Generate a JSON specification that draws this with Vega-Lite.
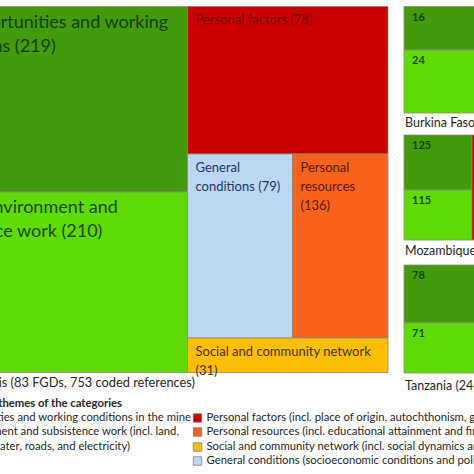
{
  "$schema": "https://vega.github.io/schema/vega-lite/v6.json",
  "description": "Treemaps of coded references by category: overall analysis and per country",
  "autosize": {"type": "none"},
  "padding": 0,
  "width": 474,
  "height": 474,
  "background": "white",
  "config": {"view": {"stroke": null}, "font": "Lato", "text": {"font": "Lato"}},
  "datasets": {
    "cells": [
      {"panel": "main", "category": "jobs", "count": 219, "label": "Job opportunities and working\nconditions (219)", "x0": -80, "x1": 187.5, "y0": 6.5, "y1": 192},
      {"panel": "main", "category": "environment", "count": 210, "label": "Natural environment and\nsubsistence work (210)", "x0": -87, "x1": 187.5, "y0": 192, "y1": 372.5},
      {"panel": "main", "category": "personal_factors", "count": 78, "label": "Personal factors (78)", "x0": 187.5, "x1": 388, "y0": 6.5, "y1": 154},
      {"panel": "main", "category": "general", "count": 79, "label": "General\nconditions (79)", "x0": 187.5, "x1": 292.5, "y0": 154, "y1": 338},
      {"panel": "main", "category": "personal_resources", "count": 136, "label": "Personal\nresources\n(136)", "x0": 292.5, "x1": 388, "y0": 154, "y1": 338},
      {"panel": "main", "category": "social", "count": 31, "label": "Social and community network\n(31)", "x0": 187.5, "x1": 388, "y0": 338, "y1": 372.5},
      {"panel": "Burkina Faso", "category": "jobs", "count": 16, "label": "", "x0": 404, "x1": 530, "y0": 6.5, "y1": 50},
      {"panel": "Burkina Faso", "category": "environment", "count": 24, "label": "", "x0": 404, "x1": 530, "y0": 50, "y1": 113},
      {"panel": "Mozambique", "category": "jobs", "count": 125, "label": "", "x0": 404, "x1": 472, "y0": 135, "y1": 190},
      {"panel": "Mozambique", "category": "environment", "count": 115, "label": "", "x0": 404, "x1": 472, "y0": 190, "y1": 240},
      {"panel": "Mozambique", "category": "personal_factors", "count": null, "label": "", "x0": 472, "x1": 530, "y0": 135, "y1": 240},
      {"panel": "Tanzania", "category": "jobs", "count": 78, "label": "", "x0": 404, "x1": 530, "y0": 265, "y1": 323},
      {"panel": "Tanzania", "category": "environment", "count": 71, "label": "", "x0": 404, "x1": 530, "y0": 323, "y1": 373}
    ],
    "notes": [
      {"kind": "caption", "text": "Overall analysis (83 FGDs, 753 coded references)", "x": 195, "y": 383},
      {"kind": "panel", "text": "Burkina Faso", "x": 405, "y": 123},
      {"kind": "panel", "text": "Mozambique", "x": 405, "y": 251},
      {"kind": "panel", "text": "Tanzania (24 FGDs)", "x": 405, "y": 386},
      {"kind": "heading", "text": "Main themes of the categories", "x": 122, "y": 404},
      {"kind": "legend", "text": "Job opportunities and working conditions in the mine", "x": 191, "y": 418},
      {"kind": "legend", "text": "Natural environment and subsistence work (incl. land,", "x": 179, "y": 432},
      {"kind": "legend", "text": "drinking water, roads, and electricity)", "x": 130, "y": 447}
    ],
    "swatches": [
      {"category": "personal_factors", "description": "Personal factors (incl. place of origin, autochthonism, gender and age)", "x": 197.5, "y": 418},
      {"category": "personal_resources", "description": "Personal resources (incl. educational attainment and financial means)", "x": 197.5, "y": 432},
      {"category": "social", "description": "Social and community network (incl. social dynamics and relations)", "x": 197.5, "y": 447},
      {"category": "general", "description": "General conditions (socioeconomic conditions and political context)", "x": 197.5, "y": 461}
    ]
  },
  "layer": [
    {
      "data": {"name": "cells"},
      "mark": {"type": "rect", "stroke": "#8a8a7a", "strokeWidth": 0.8, "clip": true},
      "encoding": {
        "x": {"field": "x0", "type": "quantitative", "scale": {"domain": [0, 474], "nice": false, "zero": false}, "axis": null},
        "x2": {"field": "x1"},
        "y": {"field": "y0", "type": "quantitative", "scale": {"domain": [0, 474], "reverse": true, "nice": false, "zero": false}, "axis": null},
        "y2": {"field": "y1"},
        "fill": {
          "field": "category", "type": "nominal", "legend": null,
          "scale": {
            "domain": ["jobs", "environment", "personal_factors", "general", "personal_resources", "social"],
            "range": ["#429a0c", "#5edb04", "#c90000", "#bcd6f4", "#f7631c", "#fdbe08"]
          }
        }
      }
    },
    {
      "data": {"name": "cells"},
      "transform": [{"filter": "datum.panel == 'main' && (datum.category == 'jobs' || datum.category == 'environment')"}],
      "mark": {"type": "text", "align": "left", "baseline": "top", "dx": 8, "dy": 7, "fontSize": 18, "lineHeight": 24, "lineBreak": "\n", "clip": true},
      "encoding": {
        "x": {"field": "x0", "type": "quantitative", "scale": {"domain": [0, 474], "nice": false, "zero": false}, "axis": null},
        "y": {"field": "y0", "type": "quantitative", "scale": {"domain": [0, 474], "reverse": true, "nice": false, "zero": false}, "axis": null},
        "text": {"field": "label"},
        "color": {
          "field": "category", "type": "nominal", "legend": null,
          "scale": {
            "domain": ["jobs", "environment", "personal_factors", "general", "personal_resources", "social"],
            "range": ["#173f06", "#1c4a05", "#780000", "#1f3763", "#5a1800", "#4a3300"]
          }
        }
      }
    },
    {
      "data": {"name": "cells"},
      "transform": [{"filter": "datum.panel == 'main' && datum.category != 'jobs' && datum.category != 'environment'"}],
      "mark": {"type": "text", "align": "left", "baseline": "top", "dx": 8, "dy": 7.5, "fontSize": 13, "lineHeight": 19, "lineBreak": "\n", "clip": true},
      "encoding": {
        "x": {"field": "x0", "type": "quantitative", "scale": {"domain": [0, 474], "nice": false, "zero": false}, "axis": null},
        "y": {"field": "y0", "type": "quantitative", "scale": {"domain": [0, 474], "reverse": true, "nice": false, "zero": false}, "axis": null},
        "text": {"field": "label"},
        "color": {"field": "category", "type": "nominal", "legend": null}
      }
    },
    {
      "data": {"name": "cells"},
      "transform": [{"filter": "datum.panel != 'main' && datum.count != null"}],
      "mark": {"type": "text", "align": "left", "baseline": "top", "dx": 8, "dy": 5, "fontSize": 11, "fontWeight": "bold", "clip": true},
      "encoding": {
        "x": {"field": "x0", "type": "quantitative", "scale": {"domain": [0, 474], "nice": false, "zero": false}, "axis": null},
        "y": {"field": "y0", "type": "quantitative", "scale": {"domain": [0, 474], "reverse": true, "nice": false, "zero": false}, "axis": null},
        "text": {"field": "count"},
        "color": {"field": "category", "type": "nominal", "legend": null}
      }
    },
    {
      "data": {"name": "notes"},
      "transform": [{"filter": "datum.kind == 'caption'"}],
      "mark": {"type": "text", "align": "right", "baseline": "middle", "fontSize": 12.8, "color": "#262626", "clip": true},
      "encoding": {
        "x": {"field": "x", "type": "quantitative", "scale": {"domain": [0, 474], "nice": false, "zero": false}, "axis": null},
        "y": {"field": "y", "type": "quantitative", "scale": {"domain": [0, 474], "reverse": true, "nice": false, "zero": false}, "axis": null},
        "text": {"field": "text"}
      }
    },
    {
      "data": {"name": "notes"},
      "transform": [{"filter": "datum.kind == 'panel'"}],
      "mark": {"type": "text", "align": "left", "baseline": "middle", "fontSize": 12.5, "color": "#262626", "clip": true},
      "encoding": {
        "x": {"field": "x", "type": "quantitative", "scale": {"domain": [0, 474], "nice": false, "zero": false}, "axis": null},
        "y": {"field": "y", "type": "quantitative", "scale": {"domain": [0, 474], "reverse": true, "nice": false, "zero": false}, "axis": null},
        "text": {"field": "text"}
      }
    },
    {
      "data": {"name": "notes"},
      "transform": [{"filter": "datum.kind == 'heading'"}],
      "mark": {"type": "text", "align": "right", "baseline": "middle", "fontSize": 11.3, "fontWeight": "bold", "color": "#262626", "clip": true},
      "encoding": {
        "x": {"field": "x", "type": "quantitative", "scale": {"domain": [0, 474], "nice": false, "zero": false}, "axis": null},
        "y": {"field": "y", "type": "quantitative", "scale": {"domain": [0, 474], "reverse": true, "nice": false, "zero": false}, "axis": null},
        "text": {"field": "text"}
      }
    },
    {
      "data": {"name": "notes"},
      "transform": [{"filter": "datum.kind == 'legend'"}],
      "mark": {"type": "text", "align": "right", "baseline": "middle", "fontSize": 11.3, "color": "#262626", "clip": true},
      "encoding": {
        "x": {"field": "x", "type": "quantitative", "scale": {"domain": [0, 474], "nice": false, "zero": false}, "axis": null},
        "y": {"field": "y", "type": "quantitative", "scale": {"domain": [0, 474], "reverse": true, "nice": false, "zero": false}, "axis": null},
        "text": {"field": "text"}
      }
    },
    {
      "data": {"name": "swatches"},
      "mark": {"type": "square", "size": 72, "opacity": 1, "filled": true, "stroke": "#7f7f7f", "strokeWidth": 0.8},
      "encoding": {
        "x": {"field": "x", "type": "quantitative", "scale": {"domain": [0, 474], "nice": false, "zero": false}, "axis": null},
        "y": {"field": "y", "type": "quantitative", "scale": {"domain": [0, 474], "reverse": true, "nice": false, "zero": false}, "axis": null},
        "fill": {"field": "category", "type": "nominal", "legend": null}
      }
    },
    {
      "data": {"name": "swatches"},
      "mark": {"type": "text", "align": "left", "baseline": "middle", "dx": 9, "fontSize": 11.3, "color": "#262626", "clip": true},
      "encoding": {
        "x": {"field": "x", "type": "quantitative", "scale": {"domain": [0, 474], "nice": false, "zero": false}, "axis": null},
        "y": {"field": "y", "type": "quantitative", "scale": {"domain": [0, 474], "reverse": true, "nice": false, "zero": false}, "axis": null},
        "text": {"field": "description"}
      }
    }
  ]
}
